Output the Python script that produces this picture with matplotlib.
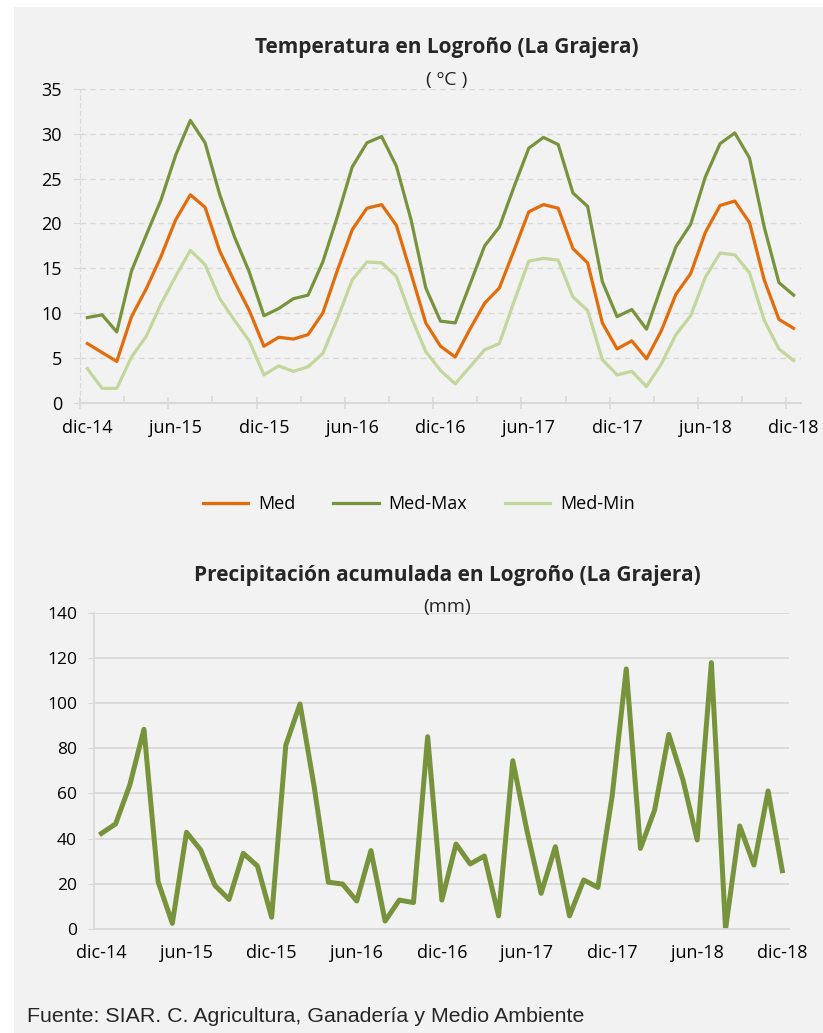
import matplotlib
matplotlib.use("Agg")
import matplotlib.pyplot as plt
from matplotlib.patches import Rectangle

# datos mensuales dic-14 .. dic-18 (49 meses)
etiquetas = ['dic-14', 'jun-15', 'dic-15', 'jun-16', 'dic-16', 'jun-17', 'dic-17', 'jun-18', 'dic-18']

t_med = [6.6, 5.6, 4.6, 9.6, 12.7, 16.3, 20.4, 23.2, 21.8, 16.9, 13.5, 10.3,
         6.3, 7.3, 7.1, 7.6, 10.0, 14.8, 19.3, 21.7, 22.1, 19.8, 14.4, 8.9,
         6.3, 5.1, 8.2, 11.1, 12.8, 17.0, 21.3, 22.1, 21.7, 17.2, 15.6, 8.9,
         6.0, 6.9, 4.9, 8.0, 12.1, 14.4, 19.0, 22.0, 22.5, 20.1, 13.7, 9.3, 8.3]
t_max = [9.5, 9.8, 7.9, 14.7, 18.7, 22.6, 27.6, 31.5, 29.0, 23.2, 18.5, 14.6,
         9.7, 10.5, 11.6, 12.0, 15.7, 20.8, 26.3, 29.0, 29.7, 26.4, 20.4, 12.8,
         9.1, 8.9, 13.2, 17.5, 19.6, 24.1, 28.4, 29.6, 28.8, 23.4, 21.9, 13.5,
         9.6, 10.4, 8.2, 12.9, 17.4, 19.9, 25.2, 28.9, 30.1, 27.3, 19.6, 13.4, 12.0]
t_min = [3.8, 1.6, 1.6, 5.1, 7.4, 11.0, 14.1, 17.0, 15.4, 11.6, 9.2, 6.9,
         3.1, 4.1, 3.5, 4.0, 5.5, 9.4, 13.7, 15.7, 15.6, 14.1, 9.6, 5.7,
         3.6, 2.1, 4.0, 5.9, 6.6, 11.3, 15.8, 16.1, 15.9, 11.8, 10.3, 4.8,
         3.1, 3.5, 1.8, 4.3, 7.6, 9.7, 14.0, 16.7, 16.5, 14.5, 9.2, 6.0, 4.7]

precip = [42.3, 46.5, 63.7, 88.4, 20.9, 2.5, 42.8, 35.0, 19.3, 13.1, 33.5, 27.9,
          5.2, 81.4, 99.6, 63.0, 20.7, 19.9, 12.4, 34.7, 3.5, 12.8, 11.7, 85.1,
          12.8, 37.6, 28.8, 32.3, 5.8, 74.5, 43.5, 15.8, 36.4, 5.8, 21.7, 18.4,
          58.6, 115.1, 35.7, 52.7, 86.1, 65.9, 39.4, 117.9, 0.0, 45.6, 28.3, 61.1, 25.8]

fondo = '#f2f2f2'
rejilla = '#d9d9d9'
naranja = '#e36c09'
verde = '#77933c'
verde_claro = '#c3d69b'

plt.rcParams['font.family'] = ['Open Sans', 'DejaVu Sans']

fig = plt.figure(figsize=(8.23, 10.33), dpi=100, facecolor='white')
fig.patches.append(Rectangle((14/823, 0), 1, 1 - 7/1033, transform=fig.transFigure,
                             facecolor=fondo, edgecolor='none', zorder=-10))

n = len(t_med)
x = list(range(n))

# ---- temperatura ----
ax1 = fig.add_axes([80/823, 1 - 402.7/1033, 721/823, 313.7/1033])
ax1.set_facecolor(fondo)
l1, = ax1.plot(x, t_med, color=naranja, lw=2.3, label='Med')
l2, = ax1.plot(x, t_max, color=verde, lw=2.3, label='Med-Max')
l3, = ax1.plot(x, t_min, color=verde_claro, lw=2.3, label='Med-Min')
ax1.set_xlim(-0.5, n - 0.5)
ax1.set_ylim(0, 35)
ax1.set_yticks(range(0, 36, 5))
ax1.grid(axis='y', color=rejilla, ls=(0, (4, 3)), lw=1)
ax1.set_axisbelow(True)
for s in ['top', 'right']:
    ax1.spines[s].set_visible(False)
ax1.spines['left'].set_color(rejilla)
ax1.spines['left'].set_linestyle((0, (4, 3)))
ax1.spines['bottom'].set_color(rejilla)
ax1.spines['bottom'].set_linewidth(1.5)
# marcas entre categorias, etiquetas centradas en el mes
ax1.set_xticks([i - 0.5 for i in range(0, n, 6)])
ax1.set_xticks([i - 0.5 for i in range(3, n, 6)], minor=True)
ax1.set_xticklabels([])
ax1.tick_params(axis='x', which='major', direction='inout', length=9, color=rejilla, width=1.2)
ax1.tick_params(axis='x', which='minor', direction='in', length=5, color=rejilla, width=1.2)
ax1.tick_params(axis='y', length=5, color=rejilla, pad=8, labelsize=13, labelcolor='#000000')
for i, e in zip(range(0, n, 6), etiquetas):
    ax1.annotate(e, (i, 0), xytext=(0, -12), textcoords='offset points', ha='center',
                 va='top', fontsize=13, color='#000000', annotation_clip=False)

fig.text(447/823, 1 - 48/1033, 'Temperatura en Logroño (La Grajera)', ha='center', va='center',
         fontsize=15, fontweight='bold', color='#262626')
fig.text(447/823, 1 - 80/1033, '( ºC )', ha='center', va='center', fontsize=14, color='#262626')

fig.legend(handles=[l1, l2, l3], loc='center', bbox_to_anchor=(419/823, 1 - 504/1033),
           ncol=3, frameon=False, fontsize=13, handlelength=2.5, handletextpad=0.55,
           columnspacing=2.1)

# ---- precipitacion ----
ax2 = fig.add_axes([94.3/823, 1 - 929/1033, 695.1/823, 316.3/1033])
ax2.set_facecolor(fondo)
ax2.plot(x, precip, color=verde, lw=3.6)
ax2.set_xlim(-0.5, n - 0.5)
ax2.set_ylim(0, 140)
ax2.set_yticks(range(0, 141, 20))
ax2.grid(axis='y', color=rejilla, lw=1.3)
ax2.set_axisbelow(True)
for s in ['top', 'right']:
    ax2.spines[s].set_visible(False)
ax2.spines['left'].set_color(rejilla)
ax2.spines['bottom'].set_color(rejilla)
ax2.spines['left'].set_linewidth(1.3)
ax2.spines['bottom'].set_linewidth(1.3)
ax2.set_xticks(range(0, n, 6))
ax2.set_xticklabels(etiquetas)
ax2.tick_params(axis='x', length=0, pad=11, labelsize=13, labelcolor='#000000')
ax2.tick_params(axis='y', length=4, color=rejilla, pad=8.5, labelsize=12.5, labelcolor='#000000')

fig.text(447/823, 1 - 575/1033, 'Precipitación acumulada en Logroño (La Grajera)', ha='center',
         va='center', fontsize=15, fontweight='bold', color='#262626')
fig.text(447/823, 1 - 607/1033, '(mm)', ha='center', va='center', fontsize=14, color='#262626')

fig.text(27/823, 1 - 1017/1033, 'Fuente: SIAR. C. Agricultura, Ganadería y Medio Ambiente',
         ha='left', va='center', fontsize=15.4, color='#262626', family=['Liberation Sans', 'DejaVu Sans'])

fig.savefig('out.png', dpi=100, facecolor=fig.get_facecolor())
